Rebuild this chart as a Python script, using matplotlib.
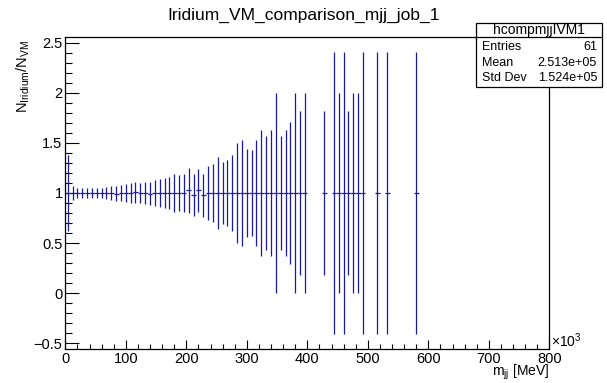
import numpy as np
import matplotlib
matplotlib.use("Agg")
import matplotlib.pyplot as plt
from matplotlib.ticker import MultipleLocator, FuncFormatter
from matplotlib.patches import Rectangle

plt.rcParams["font.family"] = ["Liberation Sans", "DejaVu Sans"]
plt.rcParams["mathtext.fontset"] = "custom"
plt.rcParams["mathtext.rm"] = "Liberation Sans"
plt.rcParams["mathtext.it"] = "Liberation Sans:italic"

# bin centres of the filled bins, in units of 10^3 MeV (bin width 8)
BIN_WIDTH = 8
mjj = [4, 12, 20, 28, 36, 44, 52, 60, 68, 76,
       84, 92, 100, 108, 116, 124, 132, 140, 148, 156,
       164, 172, 180, 188, 196, 204, 212, 220, 228, 236,
       244, 252, 260, 268, 276, 284, 292, 300, 308, 316,
       324, 332, 340, 348, 356, 364, 372, 380, 388, 396,
       428, 444, 452, 460, 468, 476, 484, 492, 516, 532, 580]

# Iridium / VM ratio per bin
ratio = [1.0, 1.0, 1.0, 1.0, 1.0, 1.0, 1.0, 1.0, 1.0, 1.0,
         0.993, 1.0, 1.0, 1.0, 1.007, 1.0, 1.0, 0.993, 1.0, 1.0,
         1.0, 1.0, 1.0, 1.0, 1.0, 1.025, 0.978, 1.025, 0.978, 1.0,
         1.0, 1.0, 1.0, 1.0, 1.0, 1.0, 1.0, 1.0, 1.0, 1.0,
         1.0, 1.0, 1.0, 1.0, 1.0, 1.0, 1.0, 1.0, 1.0, 1.0,
         1.0, 1.0, 1.0, 1.0, 1.0, 1.0, 1.0, 1.0, 1.0, 1.0, 1.0]

# statistical error on the ratio
ratio_err = [0.38, 0.07, 0.047, 0.047, 0.047, 0.047, 0.047, 0.053, 0.057, 0.067,
             0.077, 0.084, 0.09, 0.097, 0.104, 0.104, 0.11, 0.114, 0.13, 0.137,
             0.154, 0.164, 0.19, 0.177, 0.19, 0.222, 0.209, 0.216, 0.216, 0.273,
             0.294, 0.361, 0.311, 0.328, 0.375, 0.498, 0.532, 0.441, 0.425, 0.532,
             0.629, 0.572, 0.629, 0.993, 0.572, 0.629, 0.706, 0.993, 0.813, 0.993,
             0.813, 1.41, 0.993, 1.41, 0.813, 0.993, 0.993, 1.41, 1.41, 1.41, 1.41]

stat_labels = ["Entries", "Mean", "Std Dev"]
stat_values = ["61", "2.513e+05", "1.524e+05"]

W, H = 607, 383
fig = plt.figure(figsize=(W / 100, H / 100), dpi=100)

# frame in pixels: x 65..549, y 37..349
fl, fr, ft, fb = 65.3, 549.3, 37, 349
ax = fig.add_axes([fl / W, 1 - fb / H, (fr - fl) / W, (fb - ft) / H])

ax.errorbar(mjj, ratio, yerr=ratio_err, xerr=BIN_WIDTH / 2, fmt="none",
            ecolor="#1a1aa3", elinewidth=0.9, capsize=0)

ax.set_xlim(0, 800)
ax.set_ylim(-0.556, 2.556)
ax.xaxis.set_major_locator(MultipleLocator(100))
ax.xaxis.set_minor_locator(MultipleLocator(20))
ax.yaxis.set_major_locator(MultipleLocator(0.5))
ax.yaxis.set_minor_locator(MultipleLocator(0.1))
ax.yaxis.set_major_formatter(FuncFormatter(lambda v, p: f"{v:g}".replace("-", "\u2212")))
ax.xaxis.set_major_formatter(FuncFormatter(lambda v, p: f"{v:g}"))

ax.tick_params(axis="both", which="both", direction="in", top=False, right=False,
               width=0.8, labelsize=10.5, colors="black")
ax.tick_params(axis="y", which="major", length=10, pad=2)
ax.tick_params(axis="y", which="minor", length=5)
ax.tick_params(axis="x", which="major", length=6.5, pad=2)
ax.tick_params(axis="x", which="minor", length=3.3)
for s in ax.spines.values():
    s.set_linewidth(0.9)

fig.text(551 / W, 1 - 347 / H, "\u00d710$^{3}$", fontsize=10, ha="left", va="baseline")

fig.text(0.5, 1 - 15 / H, "Iridium_VM_comparison_mjj_job_1", fontsize=12.5,
         ha="center", va="center")
fig.text(549 / W, 1 - 376 / H, r"m$_{\rm jj}$ [MeV]", fontsize=10, ha="right", va="baseline")
fig.text(23 / W, 1 - 40 / H, r"N$_{\rm Iridium}$/N$_{\rm VM}$", fontsize=10.5,
         rotation=90, ha="center", va="top")

# statistics box
bl, br, bt, bb = 476, 602, 23, 87
sb = fig.add_axes([bl / W, 1 - bb / H, (br - bl) / W, (bb - bt) / H])
sb.set_xlim(bl, br)
sb.set_ylim(bb, bt)
sb.axis("off")
sb.add_patch(Rectangle((bl, bt), br - bl, bb - bt, facecolor="white",
                       edgecolor="black", linewidth=0.9, clip_on=False))
sb.plot([bl, br], [37, 37], color="black", linewidth=0.9, clip_on=False)
sb.text((bl + br) / 2, 30, "hcompmjjIVM1", fontsize=10, ha="center", va="center")
for i, (lab, val) in enumerate(zip(stat_labels, stat_values)):
    y = 47 + i * 15.5
    sb.text(482, y, lab, fontsize=9, ha="left", va="center")
    sb.text(597, y, val, fontsize=9, ha="right", va="center")

fig.savefig("out.png", dpi=100)
